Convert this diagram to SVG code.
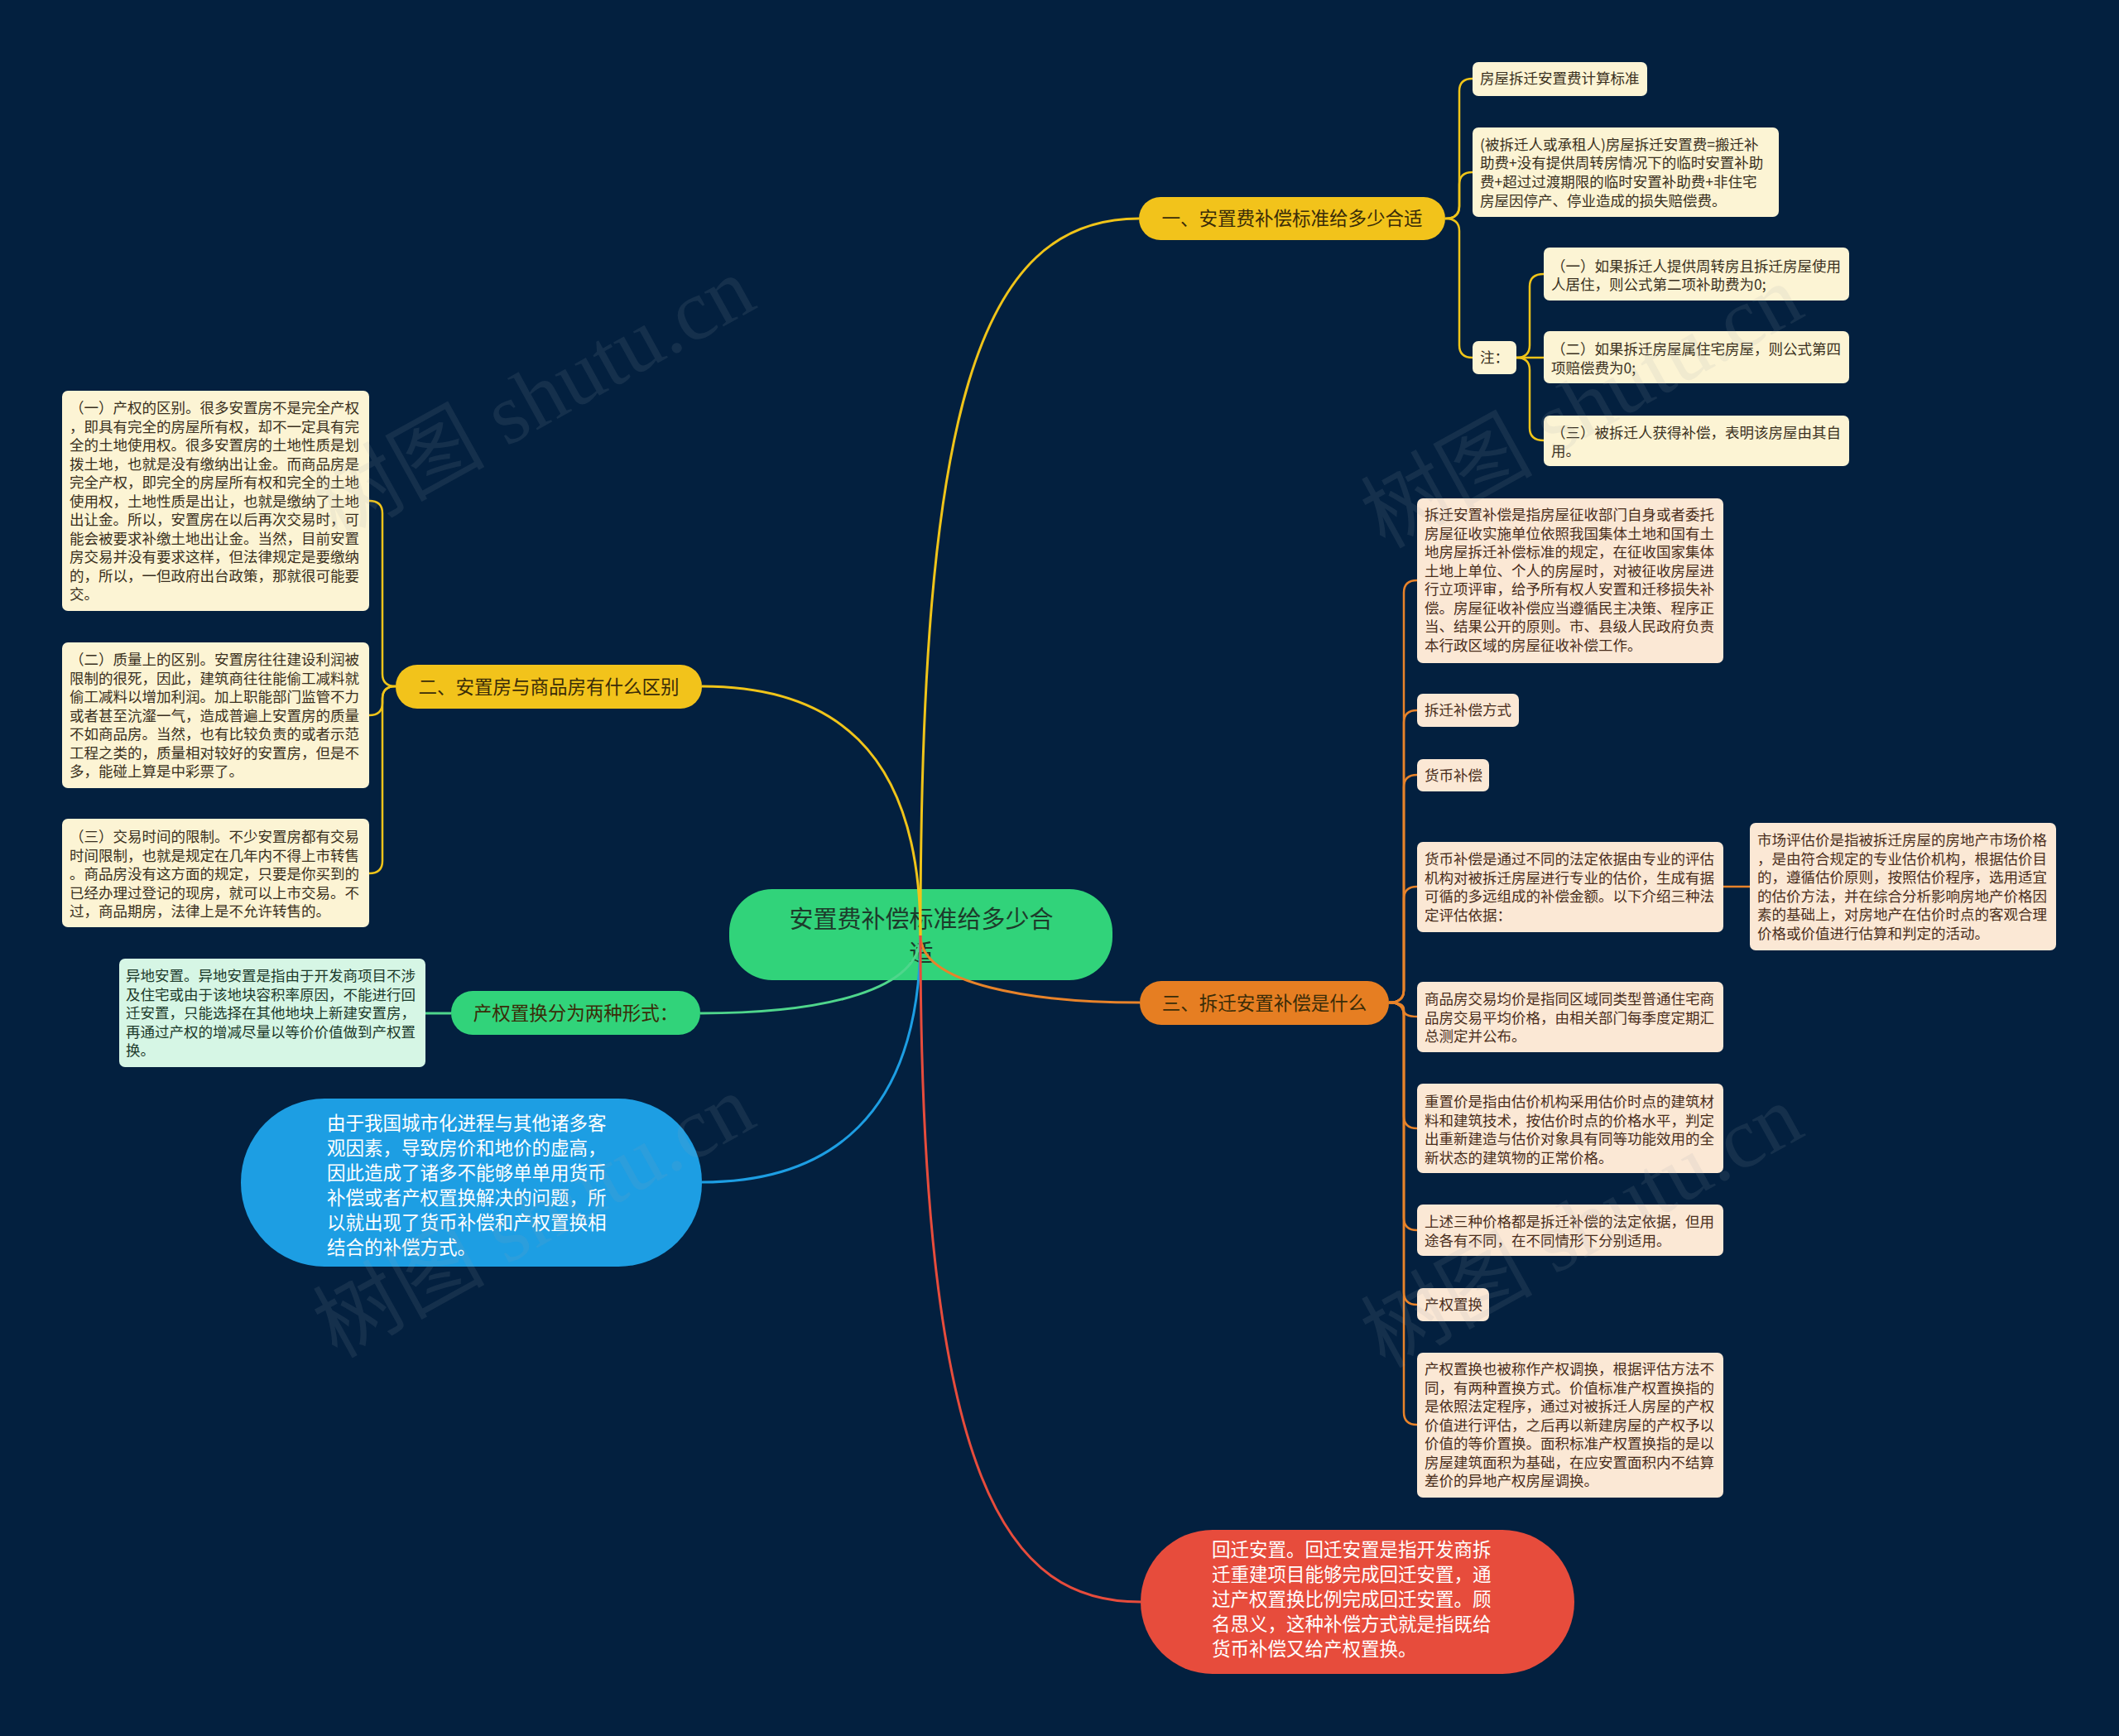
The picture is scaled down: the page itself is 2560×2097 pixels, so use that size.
<svg xmlns="http://www.w3.org/2000/svg" width="2560" height="2097" viewBox="0 0 2560 2097">
<style>
text{font-family:"Noto Sans CJK SC","Noto Sans",sans-serif}
.s{font-size:17.5px}
.p{font-size:22.5px;fill:#3a2c08;text-anchor:middle}
.cy{fill:#3a3020}
.co{fill:#4a2e1c}
.cg{fill:#1d3a2b}
.w{font-size:22.5px;fill:#ffffff}
.boxy{fill:#fcf4d4}
.boxo{fill:#fbe8d5}
.boxg{fill:#d6f6e5}
.ly{fill:none;stroke:#f0c419;stroke-width:2.5}
.lo{fill:none;stroke:#e8832a;stroke-width:2.5}
.lg{fill:none;stroke:#4fd68c;stroke-width:3}
.rl{fill:none;stroke-width:3}
.wm{font-family:"Liberation Serif","Noto Sans CJK SC",serif;font-size:104px;fill:#9aa3ad;fill-opacity:0.12;text-anchor:middle}
</style>
<rect width="2560" height="2097" fill="#03203f"/>

<g id="root">
<rect x="881" y="1074" width="463" height="110" rx="52" fill="#31d37a"/>
<text x="1113" y="1121" font-size="29" fill="#1d3b2b" text-anchor="middle">安置费补偿标准给多少合</text>
<text x="1113" y="1162" font-size="29" fill="#1d3b2b" text-anchor="middle">适</text>
</g>

<g id="connectors">
<path class="rl" stroke="#f0c419" d="M1112 1130 C1112 500 1180 264 1376 264"/>
<path class="rl" stroke="#f0c419" d="M1112 1130 C1112 900 1000 829 848 829"/>
<path class="rl" stroke="#4fd68c" d="M1112 1130 C1112 1195 1000 1224 846 1224"/>
<path class="rl" stroke="#1d9ee3" d="M1112 1130 C1112 1350 1000 1428 848 1428"/>
<path class="rl" stroke="#e8832a" d="M1112 1130 C1112 1190 1250 1211 1377 1211"/>
<path class="rl" stroke="#e74c3c" d="M1112 1130 C1112 1800 1220 1935 1378 1935"/>

<path class="ly" d="M1746 264 Q1763 264 1763 249 L1763 110 Q1763 95 1779 95"/>
<path class="ly" d="M1746 264 Q1763 264 1763 249 L1763 223 Q1763 208 1779 208"/>
<path class="ly" d="M1746 264 Q1763 264 1763 279 L1763 417 Q1763 432 1779 432"/>
<path class="ly" d="M1832 432 Q1848 432 1848 417 L1848 346 Q1848 331 1865 331"/>
<path class="ly" d="M1832 432 L1865 432"/>
<path class="ly" d="M1832 432 Q1848 432 1848 447 L1848 517 Q1848 532 1865 532"/>

<path class="ly" d="M478 829 Q462 829 462 814 L462 620 Q462 605 446 605"/>
<path class="ly" d="M478 829 Q462 829 462 844 L462 849 Q462 864 446 864"/>
<path class="ly" d="M478 829 Q462 829 462 844 L462 1040 Q462 1055 446 1055"/>

<path class="lg" d="M545 1224 L514 1224"/>

<path class="lo" d="M1678 1211 Q1696 1211 1696 1196 L1696 716 Q1696 701 1712 701"/>
<path class="lo" d="M1678 1211 Q1696 1211 1696 1196 L1696 873 Q1696 858 1712 858"/>
<path class="lo" d="M1678 1211 Q1696 1211 1696 1196 L1696 951 Q1696 936 1712 936"/>
<path class="lo" d="M1678 1211 Q1696 1211 1696 1196 L1696 1086 Q1696 1071 1712 1071"/>
<path class="lo" d="M1678 1211 Q1696 1211 1696 1219 L1696 1220 Q1696 1228 1712 1228"/>
<path class="lo" d="M1678 1211 Q1696 1211 1696 1226 L1696 1348 Q1696 1363 1712 1363"/>
<path class="lo" d="M1678 1211 Q1696 1211 1696 1226 L1696 1471 Q1696 1486 1712 1486"/>
<path class="lo" d="M1678 1211 Q1696 1211 1696 1226 L1696 1561 Q1696 1576 1712 1576"/>
<path class="lo" d="M1678 1211 Q1696 1211 1696 1226 L1696 1706 Q1696 1721 1712 1721"/>
<path class="lo" d="M2082 1071 L2114 1071"/>
</g>

<g id="branch1">
<rect x="1376" y="238" width="370" height="52" rx="26" fill="#f2c31b"/>
<text class="p" x="1561" y="272">一、安置费补偿标准给多少合适</text>
</g>
<g id="b1-standard">
<rect class="boxy" x="1779" y="75" width="211" height="41" rx="7"/>
<text class="s cy" x="1788" y="101">房屋拆迁安置费计算标准</text>
</g>
<g id="b1-formula">
<rect class="boxy" x="1779" y="154" width="370" height="108" rx="7"/>
<text class="s cy" x="1788" y="181">(被拆迁人或承租人)房屋拆迁安置费=搬迁补</text>
<text class="s cy" x="1788" y="203">助费+没有提供周转房情况下的临时安置补助</text>
<text class="s cy" x="1788" y="226">费+超过过渡期限的临时安置补助费+非住宅</text>
<text class="s cy" x="1788" y="249">房屋因停产、停业造成的损失赔偿费。</text>
</g>
<g id="b1-note">
<rect class="boxy" x="1779" y="412" width="53" height="40" rx="7"/>
<text class="s cy" x="1788" y="438">注：</text>
</g>
<g id="b1-note1">
<rect class="boxy" x="1865" y="299" width="369" height="64" rx="7"/>
<text class="s cy" x="1874" y="328">（一）如果拆迁人提供周转房且拆迁房屋使用</text>
<text class="s cy" x="1874" y="350">人居住，则公式第二项补助费为0;</text>
</g>
<g id="b1-note2">
<rect class="boxy" x="1865" y="400" width="369" height="63" rx="7"/>
<text class="s cy" x="1874" y="428">（二）如果拆迁房屋属住宅房屋，则公式第四</text>
<text class="s cy" x="1874" y="451">项赔偿费为0;</text>
</g>
<g id="b1-note3">
<rect class="boxy" x="1865" y="502" width="369" height="61" rx="7"/>
<text class="s cy" x="1874" y="529">（三）被拆迁人获得补偿，表明该房屋由其自</text>
<text class="s cy" x="1874" y="551">用。</text>
</g>

<g id="branch2">
<rect x="478" y="803" width="370" height="53" rx="26" fill="#f2c31b"/>
<text class="p" x="663" y="838">二、安置房与商品房有什么区别</text>
</g>
<g id="b2-1">
<rect class="boxy" x="75" y="472" width="371" height="266" rx="7"/>
<text class="s cy" x="84" y="499">（一）产权的区别。很多安置房不是完全产权</text>
<text class="s cy" x="84" y="521.5">，即具有完全的房屋所有权，却不一定具有完</text>
<text class="s cy" x="84" y="544">全的土地使用权。很多安置房的土地性质是划</text>
<text class="s cy" x="84" y="566.5">拨土地，也就是没有缴纳出让金。而商品房是</text>
<text class="s cy" x="84" y="589">完全产权，即完全的房屋所有权和完全的土地</text>
<text class="s cy" x="84" y="611.5">使用权，土地性质是出让，也就是缴纳了土地</text>
<text class="s cy" x="84" y="634">出让金。所以，安置房在以后再次交易时，可</text>
<text class="s cy" x="84" y="656.5">能会被要求补缴土地出让金。当然，目前安置</text>
<text class="s cy" x="84" y="679">房交易并没有要求这样，但法律规定是要缴纳</text>
<text class="s cy" x="84" y="701.5">的，所以，一但政府出台政策，那就很可能要</text>
<text class="s cy" x="84" y="724">交。</text>
</g>
<g id="b2-2">
<rect class="boxy" x="75" y="776" width="371" height="176" rx="7"/>
<text class="s cy" x="84" y="803">（二）质量上的区别。安置房往往建设利润被</text>
<text class="s cy" x="84" y="825.5">限制的很死，因此，建筑商往往能偷工减料就</text>
<text class="s cy" x="84" y="848">偷工减料以增加利润。加上职能部门监管不力</text>
<text class="s cy" x="84" y="870.5">或者甚至沆瀣一气，造成普遍上安置房的质量</text>
<text class="s cy" x="84" y="893">不如商品房。当然，也有比较负责的或者示范</text>
<text class="s cy" x="84" y="915.5">工程之类的，质量相对较好的安置房，但是不</text>
<text class="s cy" x="84" y="938">多，能碰上算是中彩票了。</text>
</g>
<g id="b2-3">
<rect class="boxy" x="75" y="989" width="371" height="131" rx="7"/>
<text class="s cy" x="84" y="1017">（三）交易时间的限制。不少安置房都有交易</text>
<text class="s cy" x="84" y="1039.5">时间限制，也就是规定在几年内不得上市转售</text>
<text class="s cy" x="84" y="1062">。商品房没有这方面的规定，只要是你买到的</text>
<text class="s cy" x="84" y="1084.5">已经办理过登记的现房，就可以上市交易。不</text>
<text class="s cy" x="84" y="1107">过，商品期房，法律上是不允许转售的。</text>
</g>

<g id="branch-green">
<rect x="545" y="1197" width="301" height="53" rx="26" fill="#31d37a"/>
<text class="p" x="695.5" y="1232" fill="#1d3a2b">产权置换分为两种形式：</text>
</g>
<g id="green-1">
<rect class="boxg" x="144" y="1158" width="370" height="131" rx="7"/>
<text class="s cg" x="152" y="1185">异地安置。异地安置是指由于开发商项目不涉</text>
<text class="s cg" x="152" y="1207.5">及住宅或由于该地块容积率原因，不能进行回</text>
<text class="s cg" x="152" y="1230">迁安置，只能选择在其他地块上新建安置房，</text>
<text class="s cg" x="152" y="1252.5">再通过产权的增减尽量以等价价值做到产权置</text>
<text class="s cg" x="152" y="1275">换。</text>
</g>

<g id="branch-blue">
<rect x="291" y="1327" width="557" height="203" rx="101" fill="#1d9ee3"/>
<text class="w" x="395" y="1365">由于我国城市化进程与其他诸多客</text>
<text class="w" x="395" y="1395">观因素，导致房价和地价的虚高，</text>
<text class="w" x="395" y="1425">因此造成了诸多不能够单单用货币</text>
<text class="w" x="395" y="1455">补偿或者产权置换解决的问题，所</text>
<text class="w" x="395" y="1485">以就出现了货币补偿和产权置换相</text>
<text class="w" x="395" y="1515">结合的补偿方式。</text>
</g>

<g id="branch-red">
<rect x="1378" y="1848" width="524" height="174" rx="87" fill="#e74c3c"/>
<text class="w" x="1464" y="1880">回迁安置。回迁安置是指开发商拆</text>
<text class="w" x="1464" y="1910">迁重建项目能够完成回迁安置，通</text>
<text class="w" x="1464" y="1940">过产权置换比例完成回迁安置。顾</text>
<text class="w" x="1464" y="1970">名思义，这种补偿方式就是指既给</text>
<text class="w" x="1464" y="2000">货币补偿又给产权置换。</text>
</g>

<g id="branch3">
<rect x="1377" y="1185" width="301" height="53" rx="26" fill="#e67e22"/>
<text class="p" x="1527.5" y="1220">三、拆迁安置补偿是什么</text>
</g>
<g id="b3-a">
<rect class="boxo" x="1712" y="602" width="370" height="199" rx="7"/>
<text class="s co" x="1721" y="628">拆迁安置补偿是指房屋征收部门自身或者委托</text>
<text class="s co" x="1721" y="650.5">房屋征收实施单位依照我国集体土地和国有土</text>
<text class="s co" x="1721" y="673">地房屋拆迁补偿标准的规定，在征收国家集体</text>
<text class="s co" x="1721" y="695.5">土地上单位、个人的房屋时，对被征收房屋进</text>
<text class="s co" x="1721" y="718">行立项评审，给予所有权人安置和迁移损失补</text>
<text class="s co" x="1721" y="740.5">偿。房屋征收补偿应当遵循民主决策、程序正</text>
<text class="s co" x="1721" y="763">当、结果公开的原则。市、县级人民政府负责</text>
<text class="s co" x="1721" y="785.5">本行政区域的房屋征收补偿工作。</text>
</g>
<g id="b3-b">
<rect class="boxo" x="1712" y="838" width="123" height="40" rx="7"/>
<text class="s co" x="1721" y="864">拆迁补偿方式</text>
</g>
<g id="b3-c">
<rect class="boxo" x="1712" y="917" width="87" height="39" rx="7"/>
<text class="s co" x="1721" y="943">货币补偿</text>
</g>
<g id="b3-d">
<rect class="boxo" x="1712" y="1017" width="370" height="109" rx="7"/>
<text class="s co" x="1721" y="1044">货币补偿是通过不同的法定依据由专业的评估</text>
<text class="s co" x="1721" y="1066.5">机构对被拆迁房屋进行专业的估价，生成有据</text>
<text class="s co" x="1721" y="1089">可循的多远组成的补偿金额。以下介绍三种法</text>
<text class="s co" x="1721" y="1111.5">定评估依据：</text>
</g>
<g id="b3-e">
<rect class="boxo" x="2114" y="994" width="370" height="154" rx="7"/>
<text class="s co" x="2123" y="1021">市场评估价是指被拆迁房屋的房地产市场价格</text>
<text class="s co" x="2123" y="1043.5">，是由符合规定的专业估价机构，根据估价目</text>
<text class="s co" x="2123" y="1066">的，遵循估价原则，按照估价程序，选用适宜</text>
<text class="s co" x="2123" y="1088.5">的估价方法，并在综合分析影响房地产价格因</text>
<text class="s co" x="2123" y="1111">素的基础上，对房地产在估价时点的客观合理</text>
<text class="s co" x="2123" y="1133.5">价格或价值进行估算和判定的活动。</text>
</g>
<g id="b3-f">
<rect class="boxo" x="1712" y="1186" width="370" height="85" rx="7"/>
<text class="s co" x="1721" y="1213">商品房交易均价是指同区域同类型普通住宅商</text>
<text class="s co" x="1721" y="1235.5">品房交易平均价格，由相关部门每季度定期汇</text>
<text class="s co" x="1721" y="1258">总测定并公布。</text>
</g>
<g id="b3-g">
<rect class="boxo" x="1712" y="1309" width="370" height="108" rx="7"/>
<text class="s co" x="1721" y="1337">重置价是指由估价机构采用估价时点的建筑材</text>
<text class="s co" x="1721" y="1359.5">料和建筑技术，按估价时点的价格水平，判定</text>
<text class="s co" x="1721" y="1382">出重新建造与估价对象具有同等功能效用的全</text>
<text class="s co" x="1721" y="1404.5">新状态的建筑物的正常价格。</text>
</g>
<g id="b3-h">
<rect class="boxo" x="1712" y="1455" width="370" height="62" rx="7"/>
<text class="s co" x="1721" y="1482">上述三种价格都是拆迁补偿的法定依据，但用</text>
<text class="s co" x="1721" y="1504.5">途各有不同，在不同情形下分别适用。</text>
</g>
<g id="b3-i">
<rect class="boxo" x="1712" y="1556" width="87" height="40" rx="7"/>
<text class="s co" x="1721" y="1582">产权置换</text>
</g>
<g id="b3-j">
<rect class="boxo" x="1712" y="1634" width="370" height="175" rx="7"/>
<text class="s co" x="1721" y="1660">产权置换也被称作产权调换，根据评估方法不</text>
<text class="s co" x="1721" y="1682.5">同，有两种置换方式。价值标准产权置换指的</text>
<text class="s co" x="1721" y="1705">是依照法定程序，通过对被拆迁人房屋的产权</text>
<text class="s co" x="1721" y="1727.5">价值进行评估，之后再以新建房屋的产权予以</text>
<text class="s co" x="1721" y="1750">价值的等价置换。面积标准产权置换指的是以</text>
<text class="s co" x="1721" y="1772.5">房屋建筑面积为基础，在应安置面积内不结算</text>
<text class="s co" x="1721" y="1795">差价的异地产权房屋调换。</text>
</g>

<g id="watermarks">
<text class="wm" transform="translate(662 512) rotate(-29)">树图 shutu.cn</text>
<text class="wm" transform="translate(1928 522) rotate(-29)">树图 shutu.cn</text>
<text class="wm" transform="translate(662 1500) rotate(-29)">树图 shutu.cn</text>
<text class="wm" transform="translate(1928 1512) rotate(-29)">树图 shutu.cn</text>
</g>
</svg>
